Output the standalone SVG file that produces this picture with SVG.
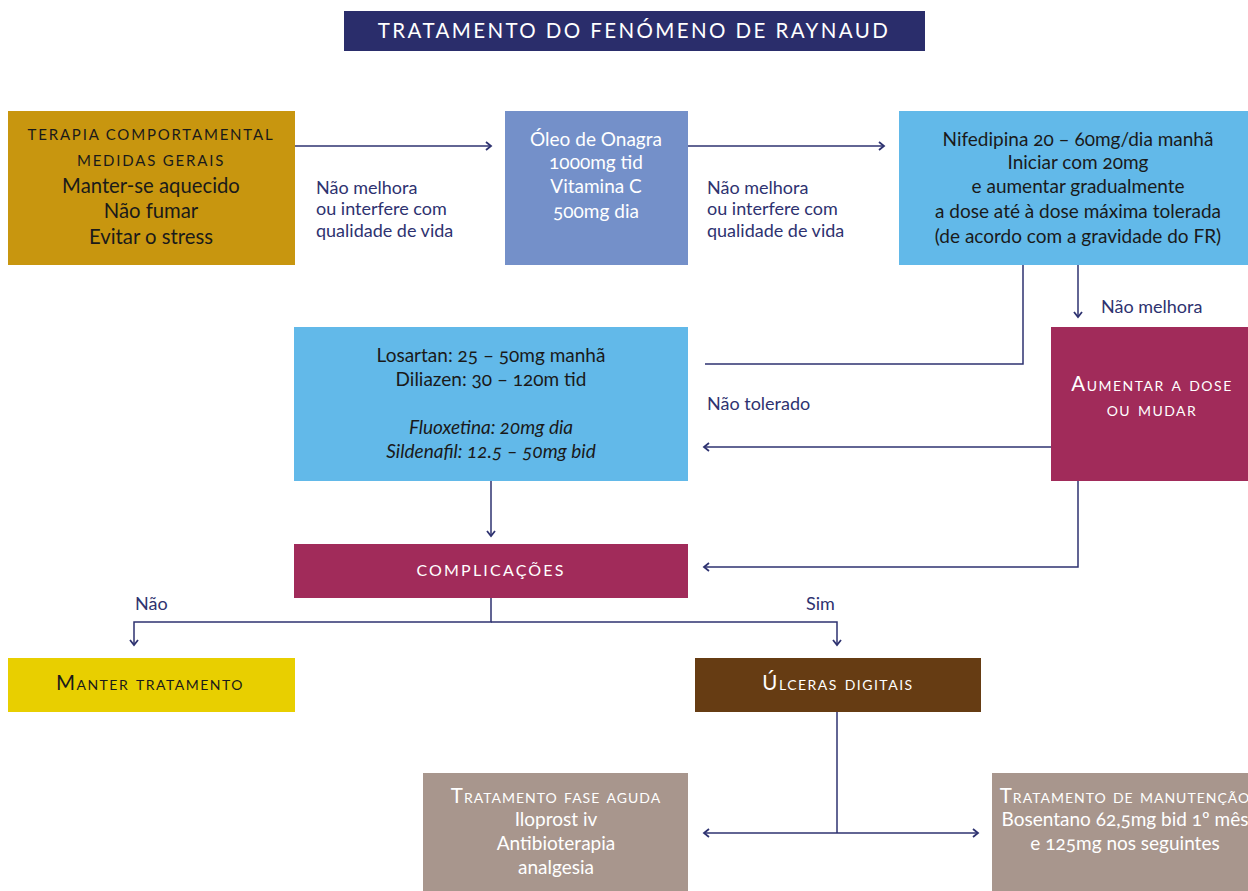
<svg xmlns="http://www.w3.org/2000/svg" width="1248" height="891" viewBox="0 0 1248 891">
<defs>
<marker id="arr" markerUnits="userSpaceOnUse" markerWidth="12" markerHeight="12" viewBox="0 0 12 12" refX="10" refY="6" orient="auto">
<path d="M5,2 L10,6 L5,10" fill="none" stroke="#2e3270" stroke-width="1.8"/>
</marker>
<style>
text{font-family:"Lato","Open Sans","Liberation Sans",sans-serif;font-size:19px;text-anchor:middle;font-variant-numeric:oldstyle-nums}
.lbl{fill:#2e3270;text-anchor:start;font-size:18px}
.w{fill:#ffffff}
.k{fill:#1a1a1a}
.big{font-size:20.3px}
.sc{font-variant:small-caps;letter-spacing:1.5px;font-size:20.5px}
.cap{font-size:15px;letter-spacing:1.8px}
.it{font-style:italic}
.ln{fill:none;stroke:#2e3270;stroke-width:1.5}
</style>
</defs>

<g id="title">
<rect x="344" y="11" width="581" height="40" fill="#2a2d6b"/>
<text x="634" y="38" class="w" style="font-size:20.5px;letter-spacing:2.4px">TRATAMENTO DO FENÓMENO DE RAYNAUD</text>
</g>

<g id="connectors">
<line class="ln" x1="295" y1="146" x2="491" y2="146" marker-end="url(#arr)"/>
<line class="ln" x1="688" y1="146" x2="884" y2="146" marker-end="url(#arr)"/>
<polyline class="ln" points="1023,265 1023,364 705,364"/>
<line class="ln" x1="1078" y1="265" x2="1078" y2="317" marker-end="url(#arr)"/>
<line class="ln" x1="1051" y1="447" x2="704" y2="447" marker-end="url(#arr)"/>
<polyline class="ln" points="1078,481 1078,567 704,567" marker-end="url(#arr)"/>
<line class="ln" x1="491" y1="481" x2="491" y2="536" marker-end="url(#arr)"/>
<polyline class="ln" points="491,598 491,622 134,622 134,645" marker-end="url(#arr)"/>
<polyline class="ln" points="491,622 837,622 837,645" marker-end="url(#arr)"/>
<line class="ln" x1="837" y1="712" x2="837" y2="833"/>
<line class="ln" x1="837" y1="833" x2="704" y2="833" marker-end="url(#arr)"/>
<line class="ln" x1="837" y1="833" x2="978" y2="833" marker-end="url(#arr)"/>
<text class="lbl" x="316" y="194">Não melhora</text>
<text class="lbl" x="316" y="215">ou interfere com</text>
<text class="lbl" x="316" y="237">qualidade de vida</text>
<text class="lbl" x="707" y="194">Não melhora</text>
<text class="lbl" x="707" y="215">ou interfere com</text>
<text class="lbl" x="707" y="237">qualidade de vida</text>
<text class="lbl" x="1101" y="313">Não melhora</text>
<text class="lbl" x="707" y="410">Não tolerado</text>
<text class="lbl" x="135" y="610">Não</text>
<text class="lbl" x="806" y="610">Sim</text>
</g>

<g id="terapia">
<rect x="8" y="111" width="287" height="154" fill="#c8960f"/>
<text x="151" y="140" class="k cap">TERAPIA COMPORTAMENTAL</text>
<text x="151" y="166" class="k cap">MEDIDAS GERAIS</text>
<text x="151" y="193" class="k big">Manter-se aquecido</text>
<text x="151" y="218" class="k big">Não fumar</text>
<text x="151" y="244" class="k big">Evitar o stress</text>
</g>

<g id="oleo">
<rect x="505" y="111" width="183" height="154" fill="#7490c9"/>
<text x="596" y="146" class="w">Óleo de Onagra</text>
<text x="596" y="169" class="w">1000mg tid</text>
<text x="596" y="193" class="w">Vitamina C</text>
<text x="596" y="218" class="w">500mg dia</text>
</g>

<g id="nifedipina">
<rect x="899" y="111" width="349" height="154" fill="#62b9e9"/>
<text x="1078" y="146" class="k">Nifedipina 20 – 60mg/dia manhã</text>
<text x="1078" y="169" class="k">Iniciar com 20mg</text>
<text x="1078" y="193" class="k">e aumentar gradualmente</text>
<text x="1078" y="218" class="k">a dose até à dose máxima tolerada</text>
<text x="1078" y="243" class="k">(de acordo com a gravidade do FR)</text>
</g>

<g id="losartan">
<rect x="294" y="327" width="394" height="154" fill="#62b9e9"/>
<text x="491" y="362" class="k">Losartan: 25 – 50mg manhã</text>
<text x="491" y="386" class="k">Diliazen: 30 – 120m tid</text>
<text x="491" y="434" class="k it">Fluoxetina: 20mg dia</text>
<text x="491" y="458" class="k it">Sildenafil: 12.5 – 50mg bid</text>
</g>

<g id="aumentar">
<rect x="1051" y="327" width="197" height="154" fill="#a12b5a"/>
<text x="1152" y="391" class="w sc">Aumentar a dose</text>
<text x="1152" y="416" class="w sc">ou mudar</text>
</g>

<g id="complicacoes">
<rect x="294" y="544" width="394" height="54" fill="#a12b5a"/>
<text x="491" y="576" class="w cap" style="font-size:16px;letter-spacing:2.2px">COMPLICAÇÕES</text>
</g>

<g id="manter">
<rect x="8" y="658" width="287" height="54" fill="#e8cf00"/>
<text x="150" y="690" class="k sc">Manter tratamento</text>
</g>

<g id="ulceras">
<rect x="695" y="658" width="286" height="54" fill="#663c13"/>
<text x="838" y="690" class="w sc">Úlceras digitais</text>
</g>

<g id="aguda">
<rect x="423" y="773" width="265" height="118" fill="#a8968d"/>
<text x="556" y="803" class="w sc" style="letter-spacing:1px">Tratamento fase aguda</text>
<text x="556" y="826" class="w">Iloprost iv</text>
<text x="556" y="850" class="w">Antibioterapia</text>
<text x="556" y="874" class="w">analgesia</text>
</g>

<g id="manutencao">
<rect x="992" y="773" width="256" height="118" fill="#a8968d"/>
<text x="1125" y="803" class="w sc" style="letter-spacing:1px">Tratamento de manutenção</text>
<text x="1125" y="826" class="w">Bosentano 62,5mg bid 1º mês</text>
<text x="1125" y="850" class="w">e 125mg nos seguintes</text>
</g>
</svg>
